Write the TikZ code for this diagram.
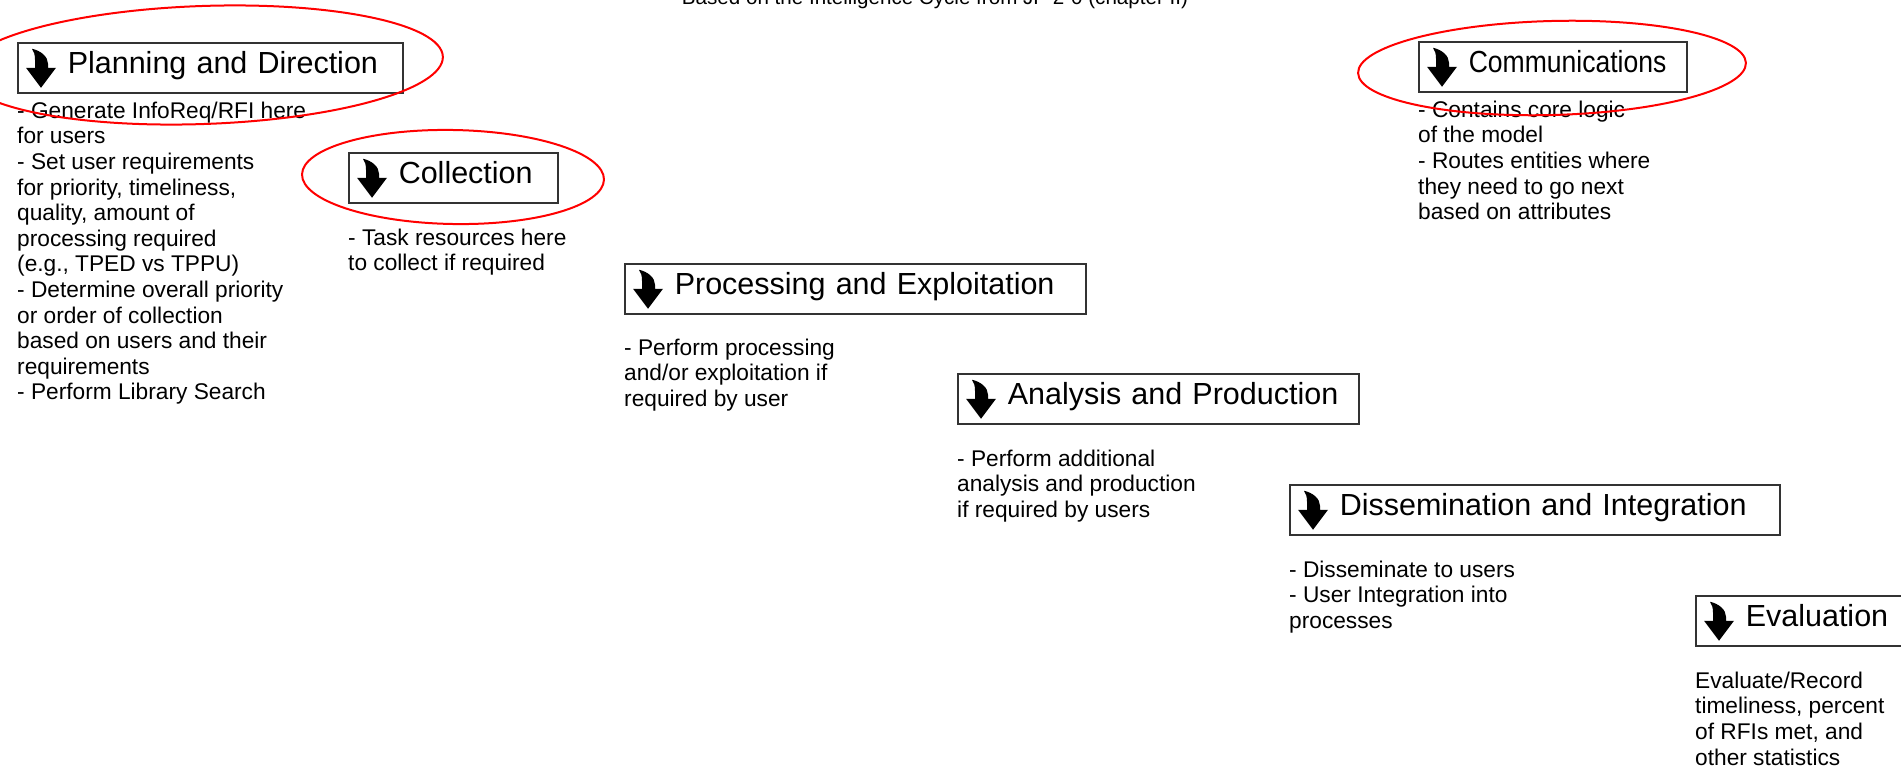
\documentclass[tikz,border=0pt]{standalone}
\usepackage{fontspec}
\usepackage{graphicx}
\setmainfont{Liberation Sans}
\begin{document}
\begin{tikzpicture}[x=1pt,y=-1pt,
  tbox/.style={draw=black!80, line width=1.5pt, inner sep=0pt, minimum height=50pt,
    anchor=north west, align=left, text height=22pt, text depth=10pt,
    font=\fontsize{30.5}{34}\selectfont},
  desc/.style={anchor=north west, inner sep=0pt, align=left,
    font=\fontsize{22.7}{25.6}\selectfont},
  ring/.style={draw=red, line width=2pt},
  dnarrow/.pic={\fill[black] (15,-19) .. controls (24,-17) and (31,-11) .. (31,-4)
      -- (31,0) -- (39,0) -- (24,20) -- (9,0) -- (18,0) -- (18,-8)
      .. controls (18,-13) and (17,-16) .. (15,-19) -- cycle;}
]
\useasboundingbox (0,0) rectangle (1901,779);
\fill[white] (0,0) rectangle (1901,779);

\node[anchor=base, inner sep=0pt, font=\fontsize{20.6}{24}\selectfont] (title) at (935,5)
  {Based on the Intelligence Cycle from JP 2-0 (chapter II)};

% boxes
\node[tbox, text width=385pt] (plan) at (17,42) {\hspace*{50pt}Planning and Direction};
\node[tbox, text width=209pt] (coll) at (348,152) {\hspace*{50pt}Collection};
\node[tbox, text width=268pt] (comm) at (1418,41) {\hspace*{50pt}\scalebox{0.87}[1]{Communications}};
\node[tbox, text width=461pt] (proc) at (624,263) {\hspace*{50pt}Processing and Exploitation};
\node[tbox, text width=401pt] (anal) at (957,373) {\hspace*{50pt}Analysis and Production};
\node[tbox, text width=490pt] (diss) at (1289,484) {\hspace*{50pt}Dissemination and Integration};
\node[tbox, text width=260pt] (eval) at (1695,595) {\hspace*{50pt}Evaluation};

\foreach \n in {plan,coll,comm,proc,anal,diss,eval}
  \pic at (\n.west) {dnarrow};

% descriptions
\node[desc] (tplan) at (17,98) {\rule{0pt}{20pt}- Generate InfoReq/RFI here\\for users\\- Set user requirements\\for priority, timeliness,\\quality, amount of\\processing required\\(e.g., TPED vs TPPU)\\- Determine overall priority\\or order of collection\\based on users and their\\requirements\\- Perform Library Search};
\node[desc] (tcoll) at (348,225) {\rule{0pt}{20pt}- Task resources here\\to collect if required};
\node[desc] (tcomm) at (1418,97) {\rule{0pt}{20pt}- Contains core logic\\of the model\\- Routes entities where\\they need to go next\\based on attributes};
\node[desc] (tproc) at (624,335) {\rule{0pt}{20pt}- Perform processing\\and/or exploitation if\\required by user};
\node[desc] (tanal) at (957,446) {\rule{0pt}{20pt}- Perform additional\\analysis and production\\if required by users};
\node[desc] (tdiss) at (1289,557) {\rule{0pt}{20pt}- Disseminate to users\\- User Integration into\\processes};
\node[desc] (teval) at (1695,668) {\rule{0pt}{20pt}Evaluate/Record\\timeliness, percent\\of RFIs met, and\\other statistics};

% red rings
\draw[ring, rotate around={2:(203,65)}] (203,65) ellipse [x radius=240, y radius=59];
\draw[ring, rotate around={-1:(453,177)}] (453,177) ellipse [x radius=151, y radius=47];
\draw[ring, rotate around={1.5:(1552,68)}] (1552,68) ellipse [x radius=194, y radius=47];
\end{tikzpicture}
\end{document}
